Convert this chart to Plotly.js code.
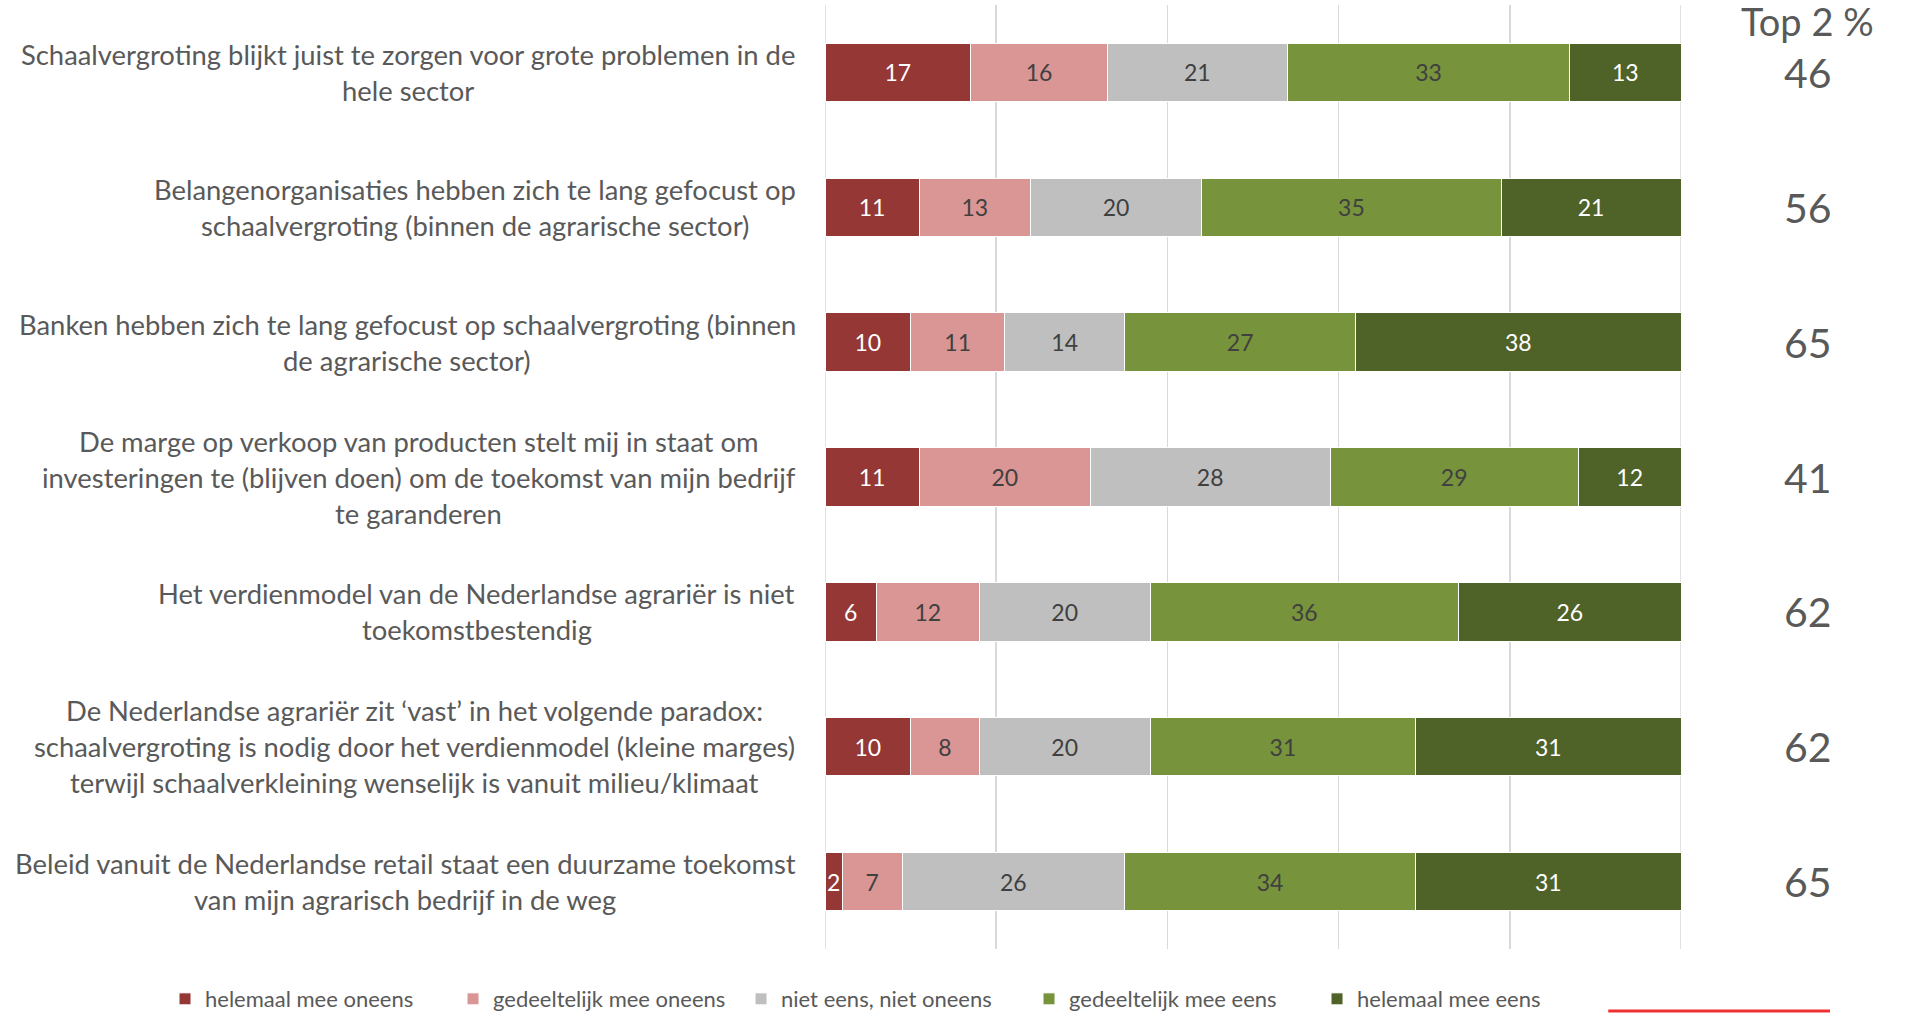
<!DOCTYPE html>
<html><head><meta charset="utf-8">
<script src="https://cdn.plot.ly/plotly-3.0.1.min.js"></script>
<style>html,body{margin:0;padding:0;background:#fff;overflow:hidden}</style>
</head><body><div id="chart" style="width:1913px;height:1013px"></div>
<script>
const statements = [
  "Schaalvergroting blijkt juist te zorgen voor grote problemen in de<br>hele sector",
  "Belangenorganisaties hebben zich te lang gefocust op<br>schaalvergroting (binnen de agrarische sector)",
  "Banken hebben zich te lang gefocust op schaalvergroting (binnen<br>de agrarische sector)",
  "De marge op verkoop van producten stelt mij in staat om<br>investeringen te (blijven doen) om de toekomst van mijn bedrijf<br>te garanderen",
  "Het verdienmodel van de Nederlandse agrariër is niet<br>toekomstbestendig",
  "De Nederlandse agrariër zit ‘vast’ in het volgende paradox:<br>schaalvergroting is nodig door het verdienmodel (kleine marges)<br>terwijl schaalverkleining wenselijk is vanuit milieu/klimaat",
  "Beleid vanuit de Nederlandse retail staat een duurzame toekomst<br>van mijn agrarisch bedrijf in de weg"
];
const seriesNames = ["helemaal mee oneens","gedeeltelijk mee oneens","niet eens, niet oneens","gedeeltelijk mee eens","helemaal mee eens"];
const helemaalOneens     = [17, 11, 10, 11,  6, 10,  2];
const gedeeltelijkOneens = [16, 13, 11, 20, 12,  8,  7];
const neutraal           = [21, 20, 14, 28, 20, 20, 26];
const gedeeltelijkEens   = [33, 35, 27, 29, 36, 31, 34];
const helemaalEens       = [13, 21, 38, 12, 26, 31, 31];
const top2               = [46, 56, 65, 41, 62, 62, 65];
const top2Header = "Top 2 %";
const axisEnds = [0, 100];

const seriesValues = [helemaalOneens, gedeeltelijkOneens, neutraal, gedeeltelijkEens, helemaalEens];
const colors = ["#953735","#D99694","#BFBFBF","#77933C","#4F6228"];
const textColors = ["#FFFFFF","#404040","#404040","#404040","#FFFFFF"];
const FONT = "Lato, 'Open Sans', sans-serif";
const idx = statements.map((s,i)=>i);

const traces = seriesValues.map((vals,k)=>({
  type:'bar', orientation:'h', name: seriesNames[k],
  x: vals, y: idx,
  marker:{color:colors[k], line:{color:'#FFFFFF', width:1}},
  text: vals.map(String), textposition:'inside', insidetextanchor:'middle',
  constraintext:'none', textangle:0,
  insidetextfont:{family:FONT, size:23, color:textColors[k]},
  hoverinfo:'none'
}));

const canvas = document.createElement('canvas');
const ctx = canvas.getContext('2d');
const LBL_SIZE = 27.4;
ctx.font = LBL_SIZE + "px Lato";
const LINE_H = 36;
const annotations = [];
statements.forEach((s,i)=>{
  const lines = s.split('<br>');
  const maxW = Math.max(...lines.map(l=>ctx.measureText(l).width));
  const n = lines.length;
  lines.forEach((l,k)=>{
    annotations.push({
      xref:'paper', yref:'y', x:0, y:i, xanchor:'center', yanchor:'middle',
      xshift: -29 - maxW/2, yshift: ((n-1)/2 - k)*LINE_H,
      text:l, showarrow:false, font:{family:FONT, size:LBL_SIZE, color:'#595959'}
    });
  });
  annotations.push({
    xref:'paper', yref:'y', x:1.148, y:i, xanchor:'center', yanchor:'middle',
    text:String(top2[i]), showarrow:false, font:{family:FONT, size:41, color:'#595959'}
  });
});
annotations.push({
  xref:'paper', yref:'paper', x:1.148, y:0.983, xanchor:'center', yanchor:'middle',
  text:top2Header, showarrow:false, font:{family:FONT, size:38, color:'#595959'}
});

const shapes = axisEnds.map(v=>({type:'line', xref:'x', yref:'paper', x0:v, x1:v, y0:0, y1:1,
  layer:'below', line:{color:'#D9D9D9', width:1.5}}));
shapes.push({type:'line', xref:'paper', yref:'paper', x0:0.915, x1:1.174, y0:-0.0657, y1:-0.0657,
  line:{color:'#F03030', width:3}});

const layout = {
  width:1913, height:1013,
  margin:{l:825, r:232, t:5, b:64, autoexpand:false},
  barmode:'stack', bargap:0.566,
  paper_bgcolor:'#FFFFFF', plot_bgcolor:'#FFFFFF',
  xaxis:{range:[0,100], dtick:20, tick0:0, showgrid:true, gridcolor:'#D9D9D9', gridwidth:1.5,
         showticklabels:false, zeroline:false, showline:false, ticks:'', fixedrange:true},
  yaxis:{range:[6.5,-0.5], showticklabels:false, showgrid:false, zeroline:false, showline:false, ticks:''},
  showlegend:true,
  legend:{orientation:'h', xref:'paper', yref:'paper', x:-0.771, xanchor:'left',
          y:-0.053, yanchor:'middle', entrywidth:243, entrywidthmode:'pixels', itemwidth:30,
          font:{family:FONT, size:22, color:'#595959'}, traceorder:'normal', bgcolor:'rgba(0,0,0,0)'},
  annotations: annotations,
  shapes: shapes,
  font:{family:FONT}
};
Plotly.newPlot('chart', traces, layout, {displayModeBar:false, staticPlot:true});
</script></body></html>
